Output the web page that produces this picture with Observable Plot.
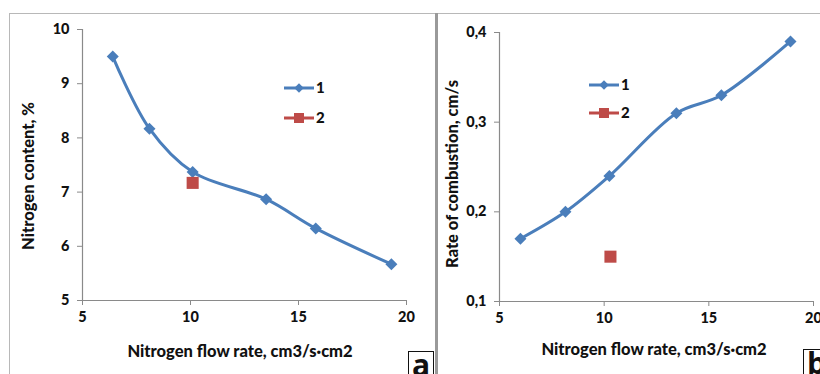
<!DOCTYPE html>
<html>
<head>
<meta charset="utf-8">
<script src="https://cdn.jsdelivr.net/npm/d3@7"></script>
<script src="https://cdn.jsdelivr.net/npm/@observablehq/plot@0.6"></script>
<style>
  html, body { margin: 0; padding: 0; background: #fff; }
  #root { position: relative; width: 820px; height: 374px; overflow: hidden; background: #fff;
          font-family: Lato, "Open Sans", sans-serif; font-weight: bold; color: #111; }
  .abs { position: absolute; }
  .frame { position: absolute; }
  .lbl { position: absolute; font-size: 16.5px; font-weight: 900; white-space: nowrap; color: #111; }
  .corner { position: absolute; border: 1.5px solid #111; background: #fff; font-size: 30px; line-height: 26px;
            font-weight: bold; padding: 0 3px; height: 30px; font-family: "Open Sans", Lato, sans-serif; }
  svg text { font-family: Lato, "Open Sans", sans-serif; font-weight: 900; }
</style>
</head>
<body>
<div id="root"></div>
<script>
// ---- data ----
const flowA = [6.4, 8.1, 10.1, 13.5, 15.8, 19.3];
const nitrogenA = [9.5, 8.17, 7.37, 6.87, 6.33, 5.67];
const flowA2 = [10.1];
const nitrogenA2 = [7.17];

const flowB = [6.0, 8.15, 10.25, 13.45, 15.6, 18.9];
const rateB = [0.17, 0.2, 0.24, 0.31, 0.33, 0.39];
const flowB2 = [10.3];
const rateB2 = [0.15];

const xTicks = [5, 10, 15, 20];
const yTicksA = [5, 6, 7, 8, 9, 10];
const yTicksB = [0.1, 0.2, 0.3, 0.4];
const seriesNames = ["1", "2"];

const blue = "#4a7ebb";
const red = "#be4b48";
const axisGray = "#8a8a8a";

const diamond = {
  draw(ctx, size) {
    const h = Math.sqrt(size / 2);
    ctx.moveTo(0, -h); ctx.lineTo(h, 0); ctx.lineTo(0, h); ctx.lineTo(-h, 0); ctx.closePath();
  }
};

const root = document.getElementById("root");

function panel({xs, ys, xs2, ys2, yDomain, yTicks, yFmt, width, height, mL, mR, mT, mB, left}) {
  const s1 = xs.map((x, i) => ({x, y: ys[i]}));
  const s2 = xs2.map((x, i) => ({x, y: ys2[i]}));
  const chart = Plot.plot({
    width, height,
    marginLeft: mL, marginRight: mR, marginTop: mT, marginBottom: mB,
    style: {fontSize: "14.5px", fontWeight: "900", color: "#111", background: "transparent", overflow: "visible"},
    x: {domain: [5, 20]},
    y: {domain: yDomain},
    marks: [
      Plot.ruleX([5], {stroke: axisGray, strokeWidth: 1.2}),
      Plot.ruleY([yDomain[0]], {stroke: axisGray, strokeWidth: 1.2}),
      Plot.axisX({ticks: xTicks, tickSize: 5, tickPadding: 6, stroke: axisGray, fill: "#111", label: null, tickFormat: d3.format("d")}),
      Plot.axisY({ticks: yTicks, tickSize: 5, tickPadding: 8, stroke: axisGray, fill: "#111", label: null, tickFormat: yFmt}),
      Plot.line(s1, {x: "x", y: "y", stroke: blue, strokeWidth: 3, curve: "catmull-rom"}),
      Plot.dot(s1, {x: "x", y: "y", symbol: diamond, r: 4.8, fill: blue, stroke: null}),
      Plot.dot(s2, {x: "x", y: "y", symbol: "square", r: 6.8, fill: red, stroke: null})
    ]
  });
  const wrap = document.createElement("div");
  wrap.className = "abs";
  wrap.style.left = left + "px";
  wrap.style.top = "0px";
  wrap.appendChild(chart);
  root.appendChild(wrap);
}

function addDiv(cls, style, html) {
  const d = document.createElement("div");
  d.className = cls;
  Object.assign(d.style, style);
  if (html !== undefined) d.textContent = html;
  root.appendChild(d);
  return d;
}
// frames
addDiv("frame", {left: "9px", top: "13px", width: "811px", height: "1px", background: "#b8b8b8"});
addDiv("frame", {left: "9px", top: "13px", width: "1px", height: "361px", background: "#b8b8b8"});
addDiv("frame", {left: "435px", top: "13px", width: "2.5px", height: "361px", background: "#9a9a9a"});

panel({xs: flowA, ys: nitrogenA, xs2: flowA2, ys2: nitrogenA2, yDomain: [5, 10], yTicks: yTicksA,
       yFmt: d3.format("d"), width: 437, height: 374, mL: 82, mR: 31, mT: 29, mB: 74, left: 0});
panel({xs: flowB, ys: rateB, xs2: flowB2, ys2: rateB2, yDomain: [0.1, 0.4], yTicks: yTicksB,
       yFmt: d => d.toFixed(1).replace(".", ","), width: 383, height: 374, mL: 62, mR: 7, mT: 32, mB: 73, left: 437});

// legends
function legend(x, y1, y2) {
  const svg = d3.select(root).append("svg").attr("class", "abs")
    .style("left", x + "px").style("top", (y1 - 12) + "px")
    .attr("width", 60).attr("height", y2 - y1 + 24);
  const rows = [{name: seriesNames[0], color: blue, sym: "d", yy: 12}, {name: seriesNames[1], color: red, sym: "s", yy: 12 + (y2 - y1)}];
  for (const r of rows) {
    svg.append("line").attr("x1", 1).attr("x2", 31).attr("y1", r.yy).attr("y2", r.yy)
      .attr("stroke", r.color).attr("stroke-width", 3);
    if (r.sym === "d") svg.append("path").attr("d", d3.symbol(diamond, 45)()).attr("transform", `translate(16,${r.yy})`).attr("fill", r.color);
    else svg.append("rect").attr("x", 11).attr("y", r.yy - 5).attr("width", 10).attr("height", 10).attr("fill", r.color);
    svg.append("text").attr("x", 33).attr("y", r.yy).attr("dy", "0.35em").attr("font-size", 15).attr("font-weight", "900")
      .attr("fill", "#111").text(r.name);
  }
}
legend(283, 88, 118);
legend(588, 85, 113);

// axis titles
addDiv("lbl", {left: "28px", top: "176px", transform: "translate(-50%,-50%) rotate(-90deg)"}, "Nitrogen content, %");
addDiv("lbl", {left: "452px", top: "174px", transform: "translate(-50%,-50%) rotate(-90deg)"}, "Rate of combustion, cm/s");
addDiv("lbl", {left: "240px", top: "351px", transform: "translate(-50%,-50%)"}, "Nitrogen flow rate, cm3/s·cm2");
addDiv("lbl", {left: "654px", top: "349px", transform: "translate(-50%,-50%)"}, "Nitrogen flow rate, cm3/s·cm2");

// corner labels
addDiv("corner", {left: "408px", top: "351px"}, "a");
addDiv("corner", {left: "803px", top: "349px"}, "b");
</script>
</body>
</html>
